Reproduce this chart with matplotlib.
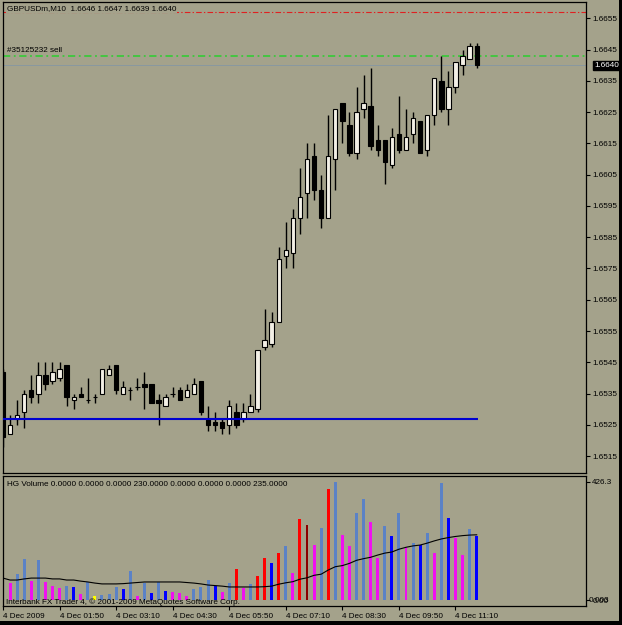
import numpy as np
import matplotlib
matplotlib.use("Agg")
import matplotlib.pyplot as plt
from matplotlib.patches import Rectangle

# GBPUSDm M10 bars, 4 Dec 2009 from 00:30 to 11:40
opens = [1.6542, 1.6522, 1.6527, 1.6529, 1.6536, 1.6535, 1.6541, 1.6539, 1.6540, 1.6544,
         1.6533, 1.6535, 1.6533, 1.6534, 1.6535, 1.6541, 1.6544, 1.6535, 1.6536, 1.6537,
         1.6538, 1.6538, 1.6533, 1.6531, 1.6535, 1.6536, 1.6534, 1.6535, 1.6539, 1.6527,
         1.6526, 1.6526, 1.6525, 1.6529, 1.6527, 1.6529, 1.6530, 1.6550, 1.6551, 1.6558,
         1.6579, 1.6580, 1.6591, 1.6599, 1.6611, 1.6600, 1.6591, 1.6610, 1.6628, 1.6621,
         1.6612, 1.6626, 1.6627, 1.6616, 1.6616, 1.6608, 1.6618, 1.6613, 1.6618, 1.6622,
         1.6613, 1.6624, 1.6635, 1.6626, 1.6633, 1.6640, 1.6642, 1.6646]
highs = [1.6543, 1.6528, 1.6533, 1.6536, 1.6541, 1.6545, 1.6545, 1.6545, 1.6545, 1.6544,
         1.6535, 1.6537, 1.6540, 1.6535, 1.6543, 1.6544, 1.6544, 1.6539, 1.6537, 1.6540,
         1.6542, 1.6538, 1.6535, 1.6535, 1.6537, 1.6537, 1.6538, 1.6540, 1.6539, 1.6531,
         1.6529, 1.6527, 1.6533, 1.6532, 1.6532, 1.6535, 1.6549, 1.6562, 1.6561, 1.6582,
         1.6590, 1.6594, 1.6607, 1.6615, 1.6615, 1.6605, 1.6624, 1.6626, 1.6628, 1.6625,
         1.6633, 1.6637, 1.6639, 1.6621, 1.6616, 1.6620, 1.6630, 1.6626, 1.6625, 1.6622,
         1.6624, 1.6636, 1.6643, 1.6638, 1.6641, 1.6645, 1.6647, 1.6647]
lows = [1.6518, 1.6522, 1.6525, 1.6524, 1.6532, 1.6532, 1.6536, 1.6538, 1.6539, 1.6531,
        1.6530, 1.6534, 1.6532, 1.6532, 1.6535, 1.6541, 1.6535, 1.6535, 1.6533, 1.6536,
        1.6530, 1.6532, 1.6525, 1.6531, 1.6534, 1.6533, 1.6534, 1.6535, 1.6528, 1.6523,
        1.6523, 1.6522, 1.6522, 1.6524, 1.6526, 1.6529, 1.6529, 1.6549, 1.6550, 1.6558,
        1.6575, 1.6575, 1.6586, 1.6591, 1.6597, 1.6588, 1.6591, 1.6600, 1.6615, 1.6611,
        1.6610, 1.6623, 1.6613, 1.6611, 1.6602, 1.6607, 1.6612, 1.6613, 1.6615, 1.6612,
        1.6611, 1.6621, 1.6625, 1.6621, 1.6631, 1.6637, 1.6642, 1.6639]
closes = [1.6521, 1.6525, 1.6528, 1.6535, 1.6534, 1.6541, 1.6538, 1.6542, 1.6543, 1.6534,
          1.6534, 1.6534, 1.6533, 1.6534, 1.6543, 1.6543, 1.6536, 1.6537, 1.6536, 1.6537,
          1.6537, 1.6532, 1.6532, 1.6534, 1.6535, 1.6533, 1.6536, 1.6538, 1.6529, 1.6525,
          1.6525, 1.6524, 1.6531, 1.6525, 1.6529, 1.6531, 1.6549, 1.6552, 1.6558, 1.6578,
          1.6581, 1.6591, 1.6598, 1.6610, 1.6600, 1.6591, 1.6611, 1.6626, 1.6622, 1.6612,
          1.6625, 1.6628, 1.6614, 1.6613, 1.6609, 1.6617, 1.6613, 1.6617, 1.6623, 1.6612,
          1.6624, 1.6636, 1.6626, 1.6633, 1.6641, 1.6643, 1.6646, 1.6640]

# HG Volume indicator: value, buffer and its moving average
volume = [120, 61, 94, 148, 68, 144, 65, 50, 44, 50,
          48, 22, 65, 14, 18, 22, 48, 40, 105, 14,
          61, 25, 66, 34, 29, 25, 14, 40, 48, 72,
          50, 29, 62, 111, 44, 58, 88, 150, 133, 170,
          195, 96, 291, 270, 200, 261, 400, 426.3, 234, 196,
          315, 364, 280, 150, 267, 232, 312, 190, 207, 198,
          243, 168, 423, 297, 225, 162, 256, 230]
vol_buffer = ['sb', 'mg', 'sb', 'sb', 'mg', 'sb', 'mg', 'mg', 'mg', 'sb',
              'bl', 'mg', 'sb', 'yl', 'sb', 'sb', 'sb', 'bl', 'sb', 'mg',
              'sb', 'bl', 'sb', 'bl', 'mg', 'mg', 'mg', 'sb', 'sb', 'sb',
              'bl', 'mg', 'sb', 'rd', 'mg', 'sb', 'rd', 'rd', 'bl', 'rd',
              'sb', 'mg', 'rd', 'dr', 'mg', 'sb', 'rd', 'sb', 'mg', 'mg',
              'sb', 'sb', 'mg', 'mg', 'sb', 'bl', 'sb', 'mg', 'sb', 'bl',
              'sb', 'mg', 'sb', 'bl', 'mg', 'mg', 'sb', 'bl']
vol_ma = [79, 72, 72, 76, 79, 79, 79, 76, 76, 72,
          72, 68, 65, 61, 58, 58, 58, 59, 61, 63,
          65, 65, 65, 65, 65, 65, 63, 61, 58, 54,
          52, 50, 47, 47, 47, 47, 47, 48, 50, 57,
          62, 66, 75, 80, 89, 93, 108, 120, 124, 132,
          143, 149, 154, 162, 169, 173, 183, 190, 195, 198,
          205, 213, 220, 225, 229, 232, 234, 235]

time_labels = ["4 Dec 2009", "4 Dec 01:50", "4 Dec 03:10", "4 Dec 04:30", "4 Dec 05:50",
               "4 Dec 07:10", "4 Dec 08:30", "4 Dec 09:50", "4 Dec 11:10"]
time_pos = [0, 8, 16, 24, 32, 40, 48, 56, 64]

red_level = 1.6657
order_level = 1.6643
bid = 1.6640
blue_level = 1.6527

bg = '#a4a28b'
buf_colors = {'sb': '#5b82c6', 'mg': '#f010f0', 'bl': '#0000ff',
              'rd': '#ff0000', 'dr': '#8b0000', 'yl': '#ffff00'}

plt.rcParams['font.family'] = ['Liberation Sans', 'DejaVu Sans']
fs = 5.9

W, H = 622, 625
fig = plt.figure(figsize=(W / 100, H / 100), dpi=100, facecolor=bg)

ax1 = fig.add_axes([2.5 / W, 1 - 473 / H, 583.5 / W, 471.3 / H])
ax2 = fig.add_axes([2.5 / W, 1 - 606 / H, 583.5 / W, 130.5 / H])

x = np.arange(len(opens))
o = np.array(opens)
c = np.array(closes)

for ax in (ax1, ax2):
    ax.set_facecolor(bg)
    for s in ax.spines.values():
        s.set_color('black')
        s.set_linewidth(0.9)
    ax.set_xlim(-0.07, 82.46)

# price pane
ax1.vlines(x, lows, highs, color='black', lw=1, zorder=3)
body_col = ['#f3f0e6' if cc >= oo else 'black' for oo, cc in zip(o, c)]
ax1.bar(x, np.abs(c - o), bottom=np.minimum(o, c), width=0.62,
        color=body_col, edgecolor='black', linewidth=0.8, zorder=4)

ax1.axhline(red_level, color='#e02020', lw=0.8, ls=(0, (5, 2, 1.2, 2)), zorder=2)
ax1.axhline(order_level, color='#3cc83c', lw=1.3, ls=(0, (4, 2, 1, 2)), zorder=2)
ax1.axhline(bid, color='#8497a3', lw=0.6, zorder=2)
ax1.hlines(blue_level, -1, 67.2, color='#0000d0', lw=1.5, zorder=5)

ax1.set_ylim(1.65096, 1.66603)
ax1.yaxis.tick_right()
ax1.set_yticks(np.arange(1.6515, 1.66551, 0.001))
ax1.set_yticklabels(['%.4f' % v for v in np.arange(1.6515, 1.66551, 0.001)])
ax1.tick_params(axis='y', direction='out', length=3, width=0.8, pad=1.5,
                labelsize=fs, colors='black')
ax1.set_xticks([])

ax1.text(0.007, 0.986, "GBPUSDm,M10  %.4f %.4f %.4f %.4f" % (opens[-1], highs[-1], lows[-1], closes[-1]),
         transform=ax1.transAxes, fontsize=fs, va='center', ha='left', zorder=6,
         bbox=dict(facecolor=bg, edgecolor='none', pad=0.6))
ax1.text(0.6, order_level + 0.00017, "#35125232 sell", fontsize=fs, va='center', ha='left')
ax1.text(1.036, bid, "%.4f" % bid, transform=ax1.get_yaxis_transform(), fontsize=fs,
         color='white', ha='center', va='center', clip_on=False,
         bbox=dict(facecolor='black', edgecolor='black', pad=0.8))

# volume pane
ax2.bar(x, volume, width=0.42, color=[buf_colors[b] for b in vol_buffer], zorder=2)
ax2.plot(x, vol_ma, color='black', lw=0.8, zorder=3)
ax2.set_ylim(-21.6, 448.7)
ax2.yaxis.tick_right()
ax2.set_yticks([0, 426.3])
ax2.set_yticklabels(['0.00', '426.3'])
ax2.tick_params(axis='y', direction='out', length=3, width=0.8, pad=1.5,
                labelsize=fs, colors='black')
ax2.text(1.004, 0, "0.003", transform=ax2.get_yaxis_transform(), fontsize=fs,
         ha='left', va='center', clip_on=False)

ax2.set_xticks(time_pos)
ax2.set_xticklabels(time_labels, ha='left')
ax2.tick_params(axis='x', direction='out', length=3, width=0.8, pad=2,
                labelsize=fs, colors='black')

ax2.text(0.007, 0.933, "HG Volume 0.0000 0.0000 0.0000 %.4f 0.0000 0.0000 0.0000 %.4f"
         % (volume[-1], vol_ma[-1]), transform=ax2.transAxes, fontsize=fs, va='center')
ax2.text(0.006, 0.03, "Interbank FX Trader 4, \u00a9 2001-2009 MetaQuotes Software Corp.",
         transform=ax2.transAxes, fontsize=fs, va='center', zorder=5)

# window frame
fig.patches.append(Rectangle((0, 0), 1, 4 / H, transform=fig.transFigure,
                             facecolor='black', edgecolor='none'))
fig.patches.append(Rectangle((1 - 3 / W, 0), 3 / W, 1, transform=fig.transFigure,
                             facecolor='black', edgecolor='none'))

fig.savefig('out.png', dpi=100, facecolor=bg)
